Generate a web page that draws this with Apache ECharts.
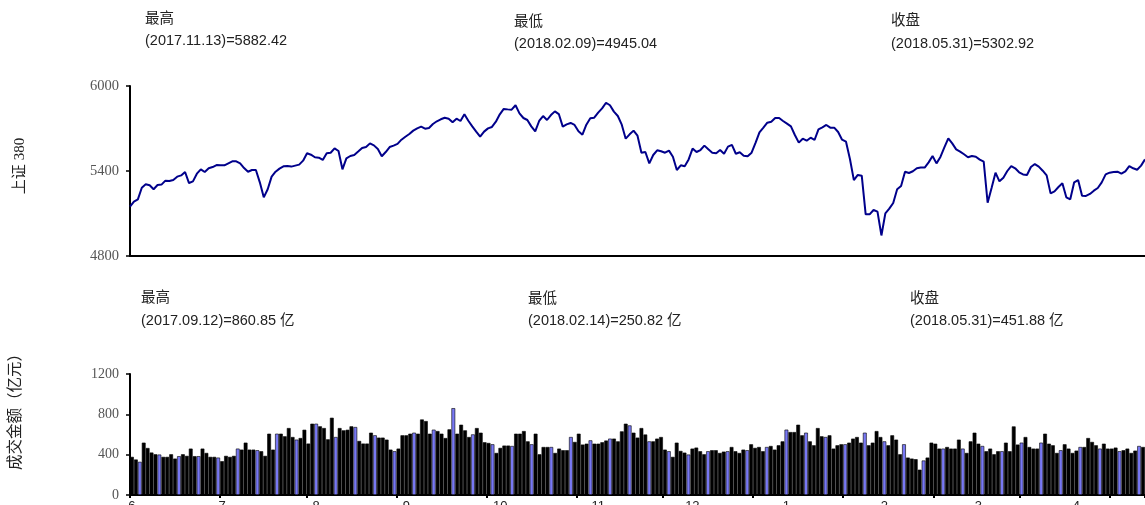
<!DOCTYPE html>
<html><head><meta charset="utf-8">
<script src="https://cdn.jsdelivr.net/npm/echarts@6/dist/echarts.min.js"></script>
<style>html,body{margin:0;padding:0;background:#fff}#c{width:1145px;height:505px}</style>
</head><body><div id="c"></div>
<script>
// 上证380 daily close (visible part)
const indexValues = [
5148,5184,5200,5282,5306,5299,5271,5301,5304,5332,
5329,5337,5360,5369,5393,5315,5327,5381,5412,5393,
5419,5428,5442,5440,5440,5454,5468,5468,5454,5421,
5395,5407,5407,5320,5214,5271,5360,5395,5417,5433,
5435,5431,5438,5445,5473,5525,5515,5497,5494,5478,
5525,5529,5560,5541,5412,5489,5506,5513,5537,5562,
5569,5595,5581,5555,5504,5534,5569,5579,5591,5621,
5642,5661,5685,5701,5713,5699,5704,5732,5751,5765,
5776,5769,5744,5769,5753,5800,5755,5715,5678,5642,
5678,5701,5711,5748,5800,5838,5835,5833,5864,5807,
5774,5760,5715,5680,5753,5788,5760,5795,5821,5802,
5713,5729,5739,5725,5680,5656,5727,5772,5776,5812,
5842,5882,5864,5819,5788,5727,5628,5659,5685,5649,
5529,5534,5454,5513,5546,5539,5529,5544,5501,5407,
5440,5433,5482,5558,5534,5548,5579,5553,5529,5525,
5548,5522,5572,5584,5522,5532,5508,5504,5529,5598,
5673,5706,5741,5748,5774,5774,5753,5734,5715,5654,
5600,5628,5614,5635,5619,5694,5708,5725,5706,5706,
5675,5621,5607,5485,5336,5372,5367,5094,5094,5125,
5113,4945,5101,5134,5174,5271,5294,5395,5386,5398,
5419,5424,5424,5461,5506,5454,5499,5567,5631,5595,
5553,5537,5518,5497,5506,5501,5480,5466,5176,5280,
5388,5327,5353,5400,5435,5419,5391,5376,5372,5428,
5449,5431,5402,5369,5242,5256,5287,5313,5214,5200,
5320,5336,5226,5224,5238,5261,5280,5320,5376,5388,
5393,5395,5381,5398,5435,5419,5409,5438,5482
];
// 成交金额 (亿元)
const turnoverValues = [
378,352,329,519,466,421,404,401,378,378,
404,361,385,404,388,460,385,385,460,417,
378,378,371,335,388,378,388,460,450,519,
450,450,444,434,388,608,450,608,608,582,
664,575,549,565,647,510,707,707,681,664,
552,766,575,664,641,647,681,674,536,510,
510,618,592,569,569,549,450,434,460,592,
592,608,618,608,749,733,608,648,634,608,
565,651,861,608,697,641,575,601,664,618,
523,516,503,417,467,490,490,486,608,608,
634,532,503,608,404,476,476,476,417,460,
444,444,575,526,608,500,509,542,509,509,
523,540,559,559,532,631,707,690,618,569,
664,600,532,532,559,575,450,434,378,519,
437,420,401,460,470,434,404,434,444,444,
417,430,434,476,434,417,450,444,503,467,
476,434,476,486,450,493,532,648,624,624,
697,592,618,532,493,664,582,575,592,460,
493,503,503,519,559,575,519,618,493,519,
634,575,532,493,592,549,404,503,371,361,
355,251,342,371,519,509,460,460,476,460,
460,549,460,417,532,618,509,486,434,460,
404,434,434,519,434,680,500,519,575,476,
460,460,519,608,509,493,417,444,503,460,
417,440,476,476,565,526,493,460,509,460,
460,470,434,444,460,417,440,486,476
];
const days = indexValues.map((_, i) => String(i + 1));
const monthLabels = ['6','7','8','9','10','11','12','1','2','3','4'];
const monthLabelAt = [0,23,47,70,94,119,143,167,192,216,241];
const monthTickAt = [0,23,45,68,91,114,136,159,182,205,227,250];
const indexNotes = [['最高','(2017.11.13)=5882.42'],['最低','(2018.02.09)=4945.04'],['收盘','(2018.05.31)=5302.92']];
const turnoverNotes = [['最高','(2017.09.12)=860.85 亿'],['最低','(2018.02.14)=250.82 亿'],['收盘','(2018.05.31)=451.88 亿']];
const indexName = '上证 380';
const turnoverName = '成交金额（亿元）';

const chart = echarts.init(document.getElementById('c'));
const SANS = '"Liberation Sans","Noto Sans CJK SC",sans-serif';
const SERIF = '"Liberation Serif","Noto Sans CJK SC",serif';
const BLUE = '#7878f4';
const noteStyle = {fontSize: 14.5, fill: '#222', fontFamily: SANS};
const topNoteX = [145, 514, 891], topNoteY = [[20,42],[23,45],[22,45]];
const botNoteX = [141, 528, 910], botNoteY = [[299,322],[300,322],[300,322]];
const graphic = [];
indexNotes.forEach((n, k) => {
  graphic.push({type:'text', left: topNoteX[k], top: topNoteY[k][0]-8, style: Object.assign({text: n[0]}, noteStyle)});
  graphic.push({type:'text', left: topNoteX[k], top: topNoteY[k][1]-8, style: Object.assign({text: n[1]}, noteStyle)});
});
turnoverNotes.forEach((n, k) => {
  graphic.push({type:'text', left: botNoteX[k], top: botNoteY[k][0]-8, style: Object.assign({text: n[0]}, noteStyle)});
  graphic.push({type:'text', left: botNoteX[k], top: botNoteY[k][1]-8, style: Object.assign({text: n[1]}, noteStyle)});
});
graphic.push({type:'text', x: 20, y: 166, rotation: Math.PI/2,
  style:{text: indexName, fontSize: 15, fill:'#222', fontFamily: SERIF, textAlign:'center', textVerticalAlign:'middle'}});
graphic.push({type:'text', x: 16, y: 408, rotation: Math.PI/2,
  style:{text: turnoverName, fontSize: 15.5, fill:'#222', fontFamily: SANS, textAlign:'center', textVerticalAlign:'middle'}});

const yCommon = {
  type:'value', splitLine:{show:false},
  axisLine:{show:true, lineStyle:{color:'#000', width:2}},
  axisTick:{show:true, length:4, lineStyle:{color:'#000', width:1.5}}
};

chart.setOption({
  animation:false,
  grid:[
    {left:130, right:0, top:86, height:170, outerBoundsMode:'none', containLabel:false},
    {left:130, right:0, top:374, height:121, outerBoundsMode:'none', containLabel:false}
  ],
  xAxis:[
    {gridIndex:0, type:'category', data:days, boundaryGap:false,
     axisLine:{lineStyle:{color:'#000', width:2}}, axisTick:{show:false}, axisLabel:{show:false}},
    {gridIndex:1, type:'category', data:days, boundaryGap:true,
     axisLine:{lineStyle:{color:'#000', width:2}},
     axisTick:{show:true, length:3, interval:(i)=>monthTickAt.includes(i), lineStyle:{color:'#000', width:2}},
     axisLabel:{interval:(i)=>monthLabelAt.includes(i), formatter:(v,i)=>monthLabels[monthLabelAt.indexOf(i)] || '',
       margin:5, fontSize:13, color:'#222', fontFamily: SANS}}
  ],
  yAxis:[
    Object.assign({gridIndex:0, min:4800, max:6000, interval:600,
      axisLabel:{margin:11, fontSize:14.5, color:'#555', fontFamily: SERIF, formatter:(v)=>String(v)}}, yCommon),
    Object.assign({gridIndex:1, min:0, max:1200, interval:400,
      axisLabel:{margin:11, fontSize:14, color:'#555', fontFamily: SERIF, formatter:(v)=>String(v)}}, yCommon)
  ],
  series:[
    {type:'line', xAxisIndex:0, yAxisIndex:0, data:indexValues, symbol:'none',
     lineStyle:{color:'#00008b', width:2}},
    {type:'bar', xAxisIndex:1, yAxisIndex:1, data:turnoverValues, barCategoryGap:'4%',
     itemStyle:{color:(p)=> p.dataIndex % 5 === 2 ? BLUE : '#000', borderColor:'#000', borderWidth:0.6}}
  ],
  graphic: graphic
});
</script></body></html>
